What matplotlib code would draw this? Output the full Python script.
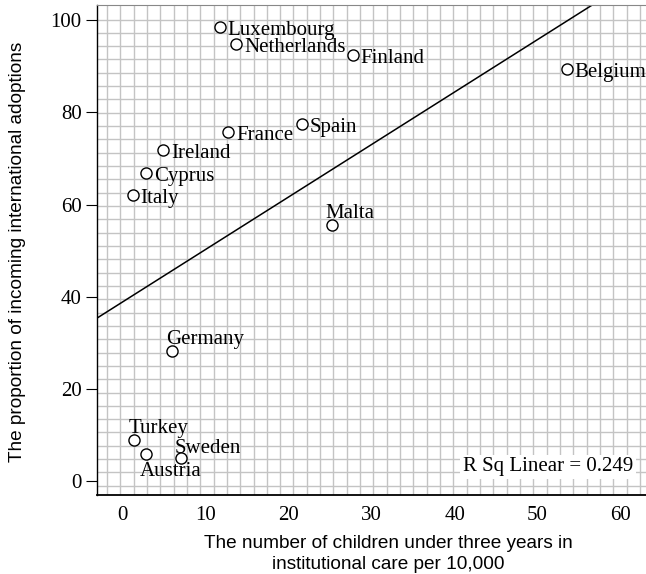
import numpy as np
import matplotlib
matplotlib.use("Agg")
import matplotlib.pyplot as plt
from matplotlib.ticker import FixedLocator

# data
countries = ["Luxembourg", "Netherlands", "Finland", "Belgium", "France", "Spain",
             "Ireland", "Cyprus", "Italy", "Malta", "Germany", "Turkey",
             "Austria", "Sweden"]
care_rate = [11.7, 13.7, 27.7, 53.5, 12.7, 21.6, 4.9, 2.8, 1.2, 25.2, 5.9, 1.4, 2.8, 7.0]
adopt_prop = [98.5, 94.8, 92.4, 89.4, 75.7, 77.4, 71.8, 66.8, 62.0, 55.5, 28.2, 8.9, 5.9, 5.0]

# fit line as drawn in the reference
fit_intercept = 38.9
fit_slope = 1.138
r_sq = 0.249

# label offsets in pixels (dx, dy), relative to the marker
label_pos = {
    "Malta": (-6, 12), "Germany": (-6, 12), "Turkey": (-6, 12),
    "Sweden": (-6, 10), "Austria": (-6, -18),
}

serif = "Liberation Serif"
sans = "Liberation Sans"

fig = plt.figure(figsize=(6.46, 5.74), dpi=100)
ax = fig.add_axes([97 / 646, 1 - 495 / 574, 565 / 646, 490 / 574])
ax.set_xlim(-3.1, 65)
ax.set_ylim(-3.0, 103.3)

# graph paper background
ax.xaxis.set_minor_locator(FixedLocator(np.arange(-1.9, 66, 1.606)))
ax.yaxis.set_minor_locator(FixedLocator(np.arange(100.15, -4, -2.89)))
ax.grid(which="minor", color="#c4c4c4", lw=1.0)
ax.set_axisbelow(True)
ax.tick_params(which="minor", length=0)

xs = np.array(ax.get_xlim())
ax.plot(xs, fit_intercept + fit_slope * xs, color="black", lw=1.1, zorder=2)

ax.scatter(care_rate, adopt_prop, s=64, facecolors="white", edgecolors="black",
           linewidths=1.0, zorder=3)

for name, x, y in zip(countries, care_rate, adopt_prop):
    dx, dy = label_pos.get(name, (8, -3))
    ax.annotate(name, (x, y), xytext=(dx, dy), textcoords="offset pixels",
                ha="left", va="center", family=serif, fontsize=15, zorder=4)

ax.set_xticks([0, 10, 20, 30, 40, 50, 60])
ax.set_yticks([0, 20, 40, 60, 80, 100])
ax.tick_params(axis="x", length=0, pad=8, labelsize=15)
ax.tick_params(axis="y", length=8, width=0.8, pad=3, labelsize=15)
for lab in ax.get_xticklabels() + ax.get_yticklabels():
    lab.set_family(serif)

ax.spines["right"].set_visible(False)
ax.spines["top"].set_color("#888888")
ax.spines["left"].set_linewidth(1.0)
ax.spines["bottom"].set_linewidth(1.3)

fig.text(18 / 646, 1 - 252 / 574, "The proportion of incoming international adoptions",
         rotation=90, ha="center", va="center", family=sans, fontsize=13.7)
fig.text(388 / 646, 1 - 554 / 574,
         "The number of children under three years in\ninstitutional care per 10,000",
         ha="center", va="center", family=sans, fontsize=13.7, linespacing=1.3)

fig.text(463 / 646, 1 - 467 / 574, "R Sq Linear = %.3f" % r_sq, ha="left", va="center",
         family=serif, fontsize=15,
         bbox=dict(facecolor="white", edgecolor="none", pad=2))

fig.savefig("out.png", dpi=100)
